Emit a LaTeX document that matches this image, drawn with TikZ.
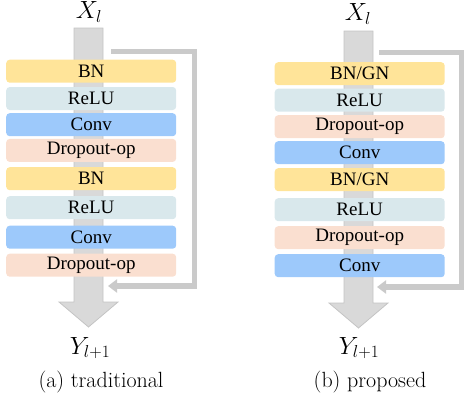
\documentclass[tikz,border=0pt]{standalone}
\usepackage{fontspec}
\setmainfont{Liberation Serif}
\usetikzlibrary{arrows.meta}
\definecolor{bncol}{HTML}{FFE499}
\definecolor{relucol}{HTML}{D9E8EC}
\definecolor{convcol}{HTML}{9DC9FB}
\definecolor{dropcol}{HTML}{FADFD0}
\definecolor{barfill}{HTML}{D9D9D9}
\definecolor{barline}{HTML}{C4C4C4}
\definecolor{skipcol}{HTML}{CACACA}
\newfontfamily\capfont{Latin Modern Roman}
\tikzset{
  layer/.style={rounded corners=3.5pt, minimum width=170pt, minimum height=23pt, inner sep=0pt, font=\fontsize{19}{21}\selectfont, anchor=north west},
  bn/.style={layer, fill=bncol},
  relu/.style={layer, fill=relucol},
  conv/.style={layer, fill=convcol},
  drop/.style={layer, fill=dropcol},
  flowbar/.style={fill=barfill, draw=barline, line width=0.8pt},
  skip/.style={draw=skipcol, line width=5.5pt, -{Triangle[length=9pt,width=13pt]}},
  mlab/.style={font=\fontsize{23}{26}\selectfont},
  caplab/.style={font=\capfont\fontsize{22}{25}\selectfont}
}
\begin{document}
\begin{tikzpicture}[x=1pt,y=1pt]
\useasboundingbox (0,0) rectangle (464,-405);
% ---------- left panel ----------
\draw[flowbar] (74,-28) -- (103,-28) -- (103,-302) -- (118,-302) -- (88.5,-327) -- (59,-302) -- (74,-302) -- cycle;
\coordinate (ls) at (111,-51.7);
\coordinate (lc1) at (194.7,-51.7);
\coordinate (lc2) at (194.7,-286);
\coordinate (le) at (108,-286);
\draw[skip] (ls) -- (lc1) -- (lc2) -- (le);
\node[bn]   (a1) at (6,-59.5)  {BN};
\node[relu] (a2) at (6,-86.8)  {ReLU};
\node[conv] (a3) at (6,-113)   {Conv};
\node[drop] (a4) at (6,-138.7) {Dropout-op};
\node[bn]   (a5) at (6,-167)   {BN};
\node[relu] (a6) at (6,-196)   {ReLU};
\node[conv] (a7) at (6,-225.5) {Conv};
\node[drop] (a8) at (6,-253.5) {Dropout-op};
\node[mlab] (xa) at (89,-12) {$X_l$};
\node[mlab] (ya) at (90,-348) {$Y_{l+1}$};
\node[caplab] (ca) at (101,-382) {(a) traditional};
% ---------- right panel ----------
\draw[flowbar] (344,-31) -- (373,-31) -- (373,-303) -- (388,-303) -- (358.5,-328) -- (329,-303) -- (344,-303) -- cycle;
\coordinate (rs) at (379,-52.5);
\coordinate (rc1) at (461.5,-52.5);
\coordinate (rc2) at (461.5,-287);
\coordinate (re) at (377,-287);
\draw[skip] (rs) -- (rc1) -- (rc2) -- (re);
\node[bn]   (b1) at (274.5,-62)  {BN/GN};
\node[relu] (b2) at (274.5,-88.5)  {ReLU};
\node[drop] (b3) at (274.5,-115)   {Dropout-op};
\node[conv] (b4) at (274.5,-141) {Conv};
\node[bn]   (b5) at (274.5,-168)   {BN/GN};
\node[relu] (b6) at (274.5,-198)   {ReLU};
\node[drop] (b7) at (274.5,-226) {Dropout-op};
\node[conv] (b8) at (274.5,-254) {Conv};
\node[mlab] (xb) at (358,-14) {$X_l$};
\node[mlab] (yb) at (359,-348) {$Y_{l+1}$};
\node[caplab] (cb) at (370,-382) {(b) proposed};
\end{tikzpicture}
\end{document}
